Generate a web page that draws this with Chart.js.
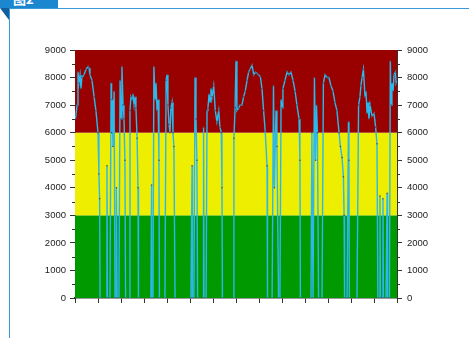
<!DOCTYPE html>
<html>
<head>
<meta charset="utf-8">
<script src="https://cdn.jsdelivr.net/npm/chart.js@4"></script>
<style>
  html, body { margin: 0; padding: 0; background: #fff; }
  #wrap { position: relative; width: 469px; height: 338px; overflow: hidden; }
  #chartBox { position: absolute; left: 0; top: 0; width: 469px; height: 338px; }
  .tab { position: absolute; left: 0; top: 0; width: 58px; height: 8px; background: #1b87cf; overflow: hidden; }
  .tab span { position: absolute; left: 13px; top: -8px; color: #fff; font: bold 13px "Noto Sans CJK SC", sans-serif; line-height: 14px; }
  .fold { position: absolute; left: 0; top: 8px; width: 9px; height: 12px; background: #0f5f9e; clip-path: polygon(0 0, 100% 0, 100% 100%); }
  .topLine { position: absolute; left: 9px; top: 8px; right: 0; height: 1px; background: #3a9ad9; }
  .leftLine { position: absolute; left: 9px; top: 8px; width: 1px; bottom: 0; background: #3a9ad9; }
</style>
</head>
<body>
<div id="wrap">
  <div id="chartBox"><canvas id="zoneChart" width="469" height="338"></canvas></div>
  <div class="tab"><span>图2</span></div>
  <div class="fold"></div>
  <div class="topLine"></div>
  <div class="leftLine"></div>
</div>
<script>
// time position (axis units) and reading
const timeX = [
  0.02, 0.09, 0.13, 0.17, 0.22, 0.26, 0.30, 0.39, 0.48, 0.57, 0.61, 0.65, 0.74, 0.83, 0.91, 1.00, 1.04, 1.07, 1.09,
  1.37, 1.39, 1.41,
  1.52, 1.57, 1.59, 1.61, 1.65, 1.70, 1.74,
  1.78, 1.80, 1.83,
  1.91, 1.96, 2.00, 2.04, 2.09, 2.13, 2.17, 2.20,
  2.35, 2.39, 2.43, 2.48, 2.52, 2.57, 2.61, 2.65, 2.70, 2.74, 2.76,
  3.30, 3.33, 3.35,
  3.39, 3.43, 3.48, 3.52, 3.57, 3.61, 3.65, 3.67,
  3.91, 3.96, 4.00, 4.04, 4.09, 4.13, 4.17, 4.22, 4.26, 4.30, 4.35,
  5.04, 5.09, 5.11,
  5.17, 5.22, 5.26, 5.30, 5.33,
  5.57, 5.59, 5.61,
  5.70, 5.74, 5.78, 5.83, 5.87, 5.91, 5.96, 6.03, 6.10, 6.17, 6.25, 6.30, 6.36, 6.39, 6.41,
  6.87, 6.91, 6.96, 7.00, 7.04, 7.12, 7.17, 7.26, 7.33, 7.40, 7.48, 7.55, 7.61, 7.70, 7.77, 7.85, 7.91, 7.98, 8.06, 8.13, 8.20, 8.27, 8.35, 8.37,
  8.57, 8.63, 8.67, 8.74, 8.78, 8.85,
  8.91, 8.96, 9.00, 9.04, 9.13, 9.22, 9.30, 9.39, 9.48, 9.57, 9.65, 9.74, 9.78, 9.80,
  10.26, 10.30, 10.35, 10.41, 10.46, 10.50, 10.54, 10.59,
  10.74, 10.80, 10.87, 10.96, 11.04, 11.13, 11.22, 11.30, 11.39, 11.48, 11.54, 11.61, 11.67, 11.70, 11.72,
  11.83, 11.89, 11.91, 11.93,
  12.26, 12.33, 12.39, 12.43, 12.48, 12.54, 12.61, 12.65, 12.70, 12.74, 12.78, 12.83, 12.91, 13.00, 13.07, 13.13, 13.17,
  13.22, 13.26, 13.28,
  13.35, 13.39, 13.41,
  13.52, 13.57, 13.59,
  13.67, 13.71, 13.74, 13.78, 13.83, 13.87, 13.93, 13.96, 14.00
];
const readings = [
  6500, 7000, 8200, 7800, 8100, 7600, 8000, 8100, 8300, 8400, 8350, 8100, 7900, 7300, 6800, 6000, 4500, 3600, 0,
  0, 4800, 0,
  0, 7800, 6000, 7200, 5500, 7500, 0,
  0, 4000, 0,
  0, 7900, 6500, 8400, 7000, 6500, 5000, 0,
  0, 6800, 7300, 7200, 7400, 7000, 7300, 6900, 5800, 4000, 0,
  0, 4100, 0,
  0, 8400, 7200, 7800, 6800, 7200, 5000, 0,
  0, 7900, 8100, 7000, 6300, 6000, 6900, 7100, 6000, 5500, 0,
  0, 4800, 0,
  0, 8000, 6500, 5000, 0,
  0, 6200, 0,
  0, 6800, 6900, 7400, 7100, 7600, 7300, 7700, 6800, 6400, 6800, 6200, 6000, 4000, 0,
  0, 5800, 6900, 8600, 6800, 6900, 7000, 7000, 7300, 7500, 7900, 8200, 8300, 8450, 8100, 8200, 8150, 8100, 8030, 7600, 6800, 6050, 4800, 0,
  0, 7700, 4000, 6800, 5500, 0,
  0, 7200, 6900, 7600, 7900, 8200, 8100, 8200, 7900, 7500, 7000, 6500, 5000, 0,
  0, 6000, 0, 8000, 5000, 7000, 6000, 0,
  0, 7800, 8100, 8000, 8000, 7700, 7500, 7100, 6800, 6000, 5500, 5100, 4400, 3000, 0,
  0, 6400, 5000, 0,
  0, 7000, 7300, 7700, 8000, 8300, 7300, 7500, 6700, 7100, 6500, 7000, 6600, 6700, 6200, 5600, 0,
  0, 3700, 0,
  0, 3600, 0,
  0, 3800, 0,
  0, 8600, 7000, 7800, 7500, 8100, 8200, 7800, 7900
];

const yTicks = [0, 1000, 2000, 3000, 4000, 5000, 6000, 7000, 8000, 9000];
const bandEdges = [0, 3000, 6000, 9000];
const bandColors = ['#009a00', '#eeee00', '#990000'];

const points = timeX.map((x, i) => ({ x: x, y: readings[i] }));

// colour zones behind the line
const zonePlugin = {
    id: 'zones',
    beforeDatasetsDraw(chart) {
        const { ctx, chartArea, scales } = chart;
        ctx.save();
        for (let i = 0; i < bandColors.length; i++) {
            const top = scales.y.getPixelForValue(bandEdges[i + 1]);
            const bot = scales.y.getPixelForValue(bandEdges[i]);
            ctx.fillStyle = bandColors[i];
            ctx.fillRect(chartArea.left, top, chartArea.right - chartArea.left, bot - top);
        }
        ctx.restore();
    },
    afterDraw(chart) {
        // minor ticks on both value axes
        const { ctx, chartArea, scales } = chart;
        ctx.save();
        ctx.strokeStyle = '#333';
        ctx.lineWidth = 1;
        ctx.beginPath();
        for (let i = 0; i < yTicks.length - 1; i++) {
            const py = Math.round(scales.y.getPixelForValue((yTicks[i] + yTicks[i + 1]) / 2)) + 0.5;
            ctx.moveTo(chartArea.left - 3, py);
            ctx.lineTo(chartArea.left, py);
            ctx.moveTo(chartArea.right, py);
            ctx.lineTo(chartArea.right + 3, py);
        }
        ctx.stroke();
        ctx.restore();
    }
};

const tickFont = { family: '"Liberation Sans", Arial, sans-serif', size: 9.5 };

new Chart(document.getElementById('zoneChart').getContext('2d'), {
    type: 'line',
    data: {
        datasets: [{
            data: points,
            borderColor: '#2bb8ea',
            borderWidth: 1.4,
            pointRadius: 0.8,
            pointBorderWidth: 0,
            pointBackgroundColor: '#4d4f68',
            tension: 0,
            fill: false,
            yAxisID: 'y',
            // idle stretches at zero sit on the axis, keep them hidden
            segment: {
                borderColor: c => (c.p0.parsed.y === 0 && c.p1.parsed.y === 0) ? 'rgba(0,0,0,0)' : undefined
            }
        }]
    },
    options: {
        responsive: false,
        animation: false,
        events: [],
        layout: { padding: { left: 15, top: 50, right: 0, bottom: 0 } },
        plugins: { legend: { display: false }, tooltip: { enabled: false } },
        scales: {
            x: {
                type: 'linear',
                min: 0,
                max: 14,
                z: 1,
                ticks: { stepSize: 1, autoSkip: false, callback: () => '' },
                grid: { drawOnChartArea: false, drawTicks: true, tickLength: 5, color: '#333' },
                border: { display: true, color: '#333', width: 1.5 },
                afterFit: s => { s.height = 40; }
            },
            y: {
                position: 'left',
                min: 0,
                max: 9000,
                afterBuildTicks: s => { s.ticks = yTicks.map(v => ({ value: v })); },
                ticks: { font: tickFont, color: '#222', padding: 4, callback: v => String(v) },
                grid: { drawOnChartArea: false, drawTicks: true, tickLength: 5, color: '#333' },
                border: { display: true, color: '#333' },
                afterFit: s => { s.width = 60; }
            },
            y2: {
                position: 'right',
                min: 0,
                max: 9000,
                afterBuildTicks: s => { s.ticks = yTicks.map(v => ({ value: v })); },
                ticks: { font: tickFont, color: '#222', padding: 5, callback: v => String(v) },
                grid: { drawOnChartArea: false, drawTicks: true, tickLength: 5, color: '#333' },
                border: { display: true, color: '#333' },
                afterFit: s => { s.width = 72; }
            }
        }
    },
    plugins: [zonePlugin]
});
</script>
</body>
</html>
